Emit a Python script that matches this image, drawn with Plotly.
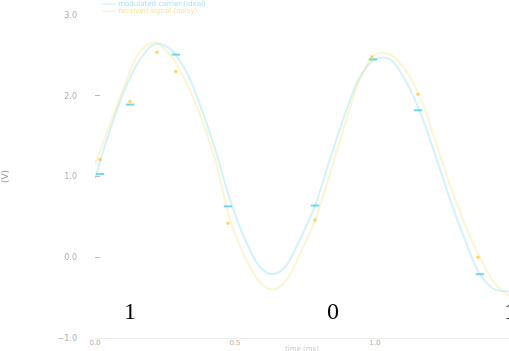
import plotly.graph_objects as go

# ---- data ----
line_x = [0, 0.054, 0.107, 0.161, 0.214, 0.268, 0.321, 0.375, 0.429, 0.482, 0.536, 0.589,
          0.632, 0.679, 0.732, 0.786, 0.839, 0.893, 0.946, 1.0, 1.054, 1.107, 1.161, 1.214,
          1.268, 1.321, 1.375, 1.429, 1.479]
cyan_y = [0.97, 1.58, 2.08, 2.45, 2.64, 2.58, 2.33, 1.89, 1.34, 0.72, 0.22, -0.12,
          -0.21, -0.12, 0.22, 0.64, 1.21, 1.77, 2.23, 2.45, 2.45, 2.20, 1.80, 1.28,
          0.72, 0.22, -0.21, -0.40, -0.42]
yellow_y = [1.15, 1.65, 2.14, 2.55, 2.66, 2.51, 2.20, 1.77, 1.21, 0.47, 0.0, -0.31,
            -0.40, -0.31, 0.04, 0.46, 1.03, 1.65, 2.20, 2.51, 2.51, 2.33, 1.99, 1.46,
            0.90, 0.41, 0.0, -0.33, -0.48]

cyan_mx = [0.018, 0.125, 0.289, 0.475, 0.786, 0.993, 1.154, 1.375]
cyan_my = [1.03, 1.89, 2.51, 0.63, 0.64, 2.45, 1.82, -0.21]
yellow_mx = [0.018, 0.125, 0.221, 0.289, 0.475, 0.786, 0.989, 1.154, 1.368]
yellow_my = [1.21, 1.93, 2.54, 2.30, 0.42, 0.46, 2.48, 2.02, 0.0]

bits = ["1", "0", "1"]
bit_x = [0.125, 0.85, 1.455]
bit_y = [-0.66, -0.66, -0.66]

series_names = ["modulated carrier (ideal)", "received signal (noisy)"]
x_tickvals = [0, 0.5, 1.0, 1.5]
x_ticktext = ["0.0", "0.5", "1.0", "1.5"]
y_tickvals = [-1, 0, 1, 2, 3]
y_ticktext = ["\u22121.0", "0.0", "1.0", "2.0", "3.0"]

CYAN = "#29c6e0"
YELLOW = "#f2cf2a"
LEG_COLORS = ["#a6e2ee", "#f5e39a"]

fig = go.Figure()
fig.add_trace(go.Scatter(x=line_x, y=cyan_y, mode="lines", line_shape="spline",
                         line=dict(color=CYAN, width=2), opacity=0.2,
                         name=series_names[0], showlegend=False))
fig.add_trace(go.Scatter(x=line_x, y=yellow_y, mode="lines", line_shape="spline",
                         line=dict(color=YELLOW, width=2), opacity=0.2,
                         name=series_names[1], showlegend=False))
fig.add_trace(go.Scatter(x=cyan_mx, y=cyan_my, mode="markers", showlegend=False,
                         marker=dict(symbol="line-ew", size=6,
                                     line=dict(color=CYAN, width=2)), opacity=0.65))
fig.add_trace(go.Scatter(x=yellow_mx, y=yellow_my, mode="markers", showlegend=False,
                         marker=dict(symbol="circle", size=3.5, color=YELLOW), opacity=0.75))

for i, (t, bx, by) in enumerate(zip(bits, bit_x, bit_y)):
    fig.add_annotation(x=bx, y=by, text=t, showarrow=False,
                       xanchor="left" if i == len(bits) - 1 else "center",
                       font=dict(family="Liberation Serif", size=24, color="black"))

# compact two-row legend (as text)
for i, (nm, col) in enumerate(zip(series_names, LEG_COLORS)):
    fig.add_annotation(xref="paper", yref="paper", x=0.012, y=1.033 - 0.02 * i,
                       xanchor="left", yanchor="middle", showarrow=False,
                       text="<span style='color:%s'>\u2014\u2014 %s</span>" % (col, nm),
                       font=dict(size=7, family="DejaVu Sans"))

# x-axis title (sits right at the bottom edge)
fig.add_annotation(xref="paper", yref="paper", x=0.5, y=-0.034, yanchor="middle",
                   showarrow=False, text="time (ms)",
                   font=dict(size=7, color="#c8c8c8", family="DejaVu Sans"))

fig.update_layout(
    width=509, height=351,
    margin=dict(l=95, r=0, t=15, b=13, autoexpand=False),
    paper_bgcolor="white", plot_bgcolor="white",
    showlegend=False,
    font=dict(family="DejaVu Sans", size=8, color="#b0b0b0"),
)
fig.update_xaxes(range=[0, 1.479], tickvals=x_tickvals, ticktext=x_ticktext,
                 showgrid=False, zeroline=False, showline=True, linecolor="#ececec",
                 ticks="", ticklabelstandoff=-2, tickfont=dict(size=7, color="#b0b0b0"),
                 automargin=False)
fig.update_yaxes(range=[-1, 3], tickvals=y_tickvals, ticktext=y_ticktext,
                 showgrid=False, zeroline=False, showline=False, automargin=False,
                 ticks="inside", ticklen=5, tickcolor="#bbbbbb", ticklabelstandoff=17,
                 tickfont=dict(size=8, color="#b0b0b0"),
                 title=dict(text="(V)", font=dict(size=9, color="#999999"), standoff=50))

fig.write_html("out.html", config={"displayModeBar": False},
               post_script="document.body.style.margin='0';")
